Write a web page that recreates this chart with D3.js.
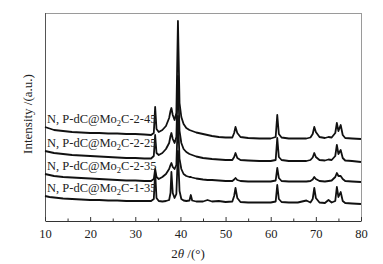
<!DOCTYPE html>
<html>
<head>
<meta charset="utf-8">
<script src="https://cdn.jsdelivr.net/npm/d3@7"></script>
<style>
  body { margin: 0; background: #fff; }
  text { font-family: "Liberation Serif", "Times New Roman", serif; fill: #222; }
</style>
</head>
<body>
<div id="chart"></div>
<script>
// 2theta sampling points (degrees)
var angles = [10, 11, 12, 14, 16, 18, 20, 22, 24, 26,
  28, 30, 32, 33.5, 34.1, 34.4, 34.7, 35.2, 36, 36.8,
  37.5, 37.8, 38.0, 38.3, 38.7, 39.1, 39.45, 39.8, 40.2, 40.7,
  41.3, 42.0, 42.3, 42.6, 43.5, 45, 46, 47, 48.5, 50,
  51.5, 51.9, 52.2, 52.6, 53.3, 55, 57.5, 60, 61.1, 61.45,
  61.8, 62.4, 64, 66, 67.9, 68.8, 69.3, 69.65, 70.0, 70.8,
  72, 72.8, 73.5, 74.3, 74.65, 75.0, 75.5, 75.95, 76.5, 78,
  80];

// intensities (a.u., already stacked with offsets as in the figure)
var int_1_35 = [25, 24, 23.5, 22.5, 22, 21.5, 21, 21, 20.5, 20.5,
  20, 20, 20, 20, 22, 49, 23, 20, 19.5, 20,
  21, 28, 49, 28, 23, 27, 70, 30, 22, 20.5,
  20, 20.5, 26, 20.5, 19.5, 19.5, 21, 19.5, 20, 19,
  19.5, 25, 33, 23, 19, 18.5, 18.5, 18.5, 19.5, 36,
  22, 19, 18.5, 18.5, 20.5, 18.5, 22, 33, 23, 18.5,
  18, 21, 18.5, 20, 34, 24, 29, 20, 18, 17.5,
  17];
var int_2_35 = [47, 46, 45, 44, 43.5, 43, 42.5, 42, 41.5, 41,
  40.5, 40.5, 40, 40, 42, 52, 44, 42, 44, 47,
  52, 56, 58, 54, 52, 56, 105, 62, 52, 47,
  45, 44, 44, 43.5, 42.5, 41.5, 41, 41, 40.5, 40,
  40, 41.5, 43, 41, 40, 39.5, 39.5, 39.5, 40.5, 53,
  43, 40, 39.5, 39.5, 39.5, 40, 41.5, 44, 42, 40,
  39.5, 40, 40.5, 44, 48, 45, 45, 42, 40, 39.5,
  39];
var int_2_25 = [70, 69, 68, 67, 66, 65.5, 65, 64.5, 64, 63.5,
  63, 63, 62.5, 62.5, 65, 86, 68, 66, 68, 72,
  78, 85, 88, 82, 78, 84, 145, 90, 78, 72,
  69, 67, 66.5, 66, 64.5, 63, 62.5, 62, 61.5, 61,
  61, 64, 68, 63, 61, 60.5, 60, 60, 61, 83,
  64, 61, 60, 60, 60, 61, 63.5, 68, 64, 61,
  60.5, 61.5, 61, 65, 76, 67, 71, 63, 60.5, 60,
  59];
var int_2_45 = [94, 92.5, 91, 90, 89, 88.5, 88, 88, 87.5, 87.5,
  87, 87, 86.5, 86, 88, 114, 92, 89, 91, 95,
  103, 110, 113, 106, 101, 108, 200, 118, 104, 97,
  93, 91, 90.5, 90, 88.5, 87, 86, 85, 84, 83.5,
  83.5, 88, 94, 88, 84, 83, 82.5, 82.5, 84, 106,
  87, 83.5, 82.5, 82.5, 82.5, 83.5, 87, 94, 89, 84,
  83, 84, 83.5, 88, 98, 90, 96, 86, 83, 82.5,
  82];

var seriesValues = [int_2_45, int_2_25, int_2_35, int_1_35];
var seriesSuffix = ["C-2-45", "C-2-25", "C-2-35", "C-1-35"];
var xTicks = [10, 20, 30, 40, 50, 60, 70, 80];
var xMinorTicks = [15, 25, 35, 45, 55, 65, 75];

var margin = {top: 13, right: 22, bottom: 43, left: 45},
    width = 383 - margin.left - margin.right,
    height = 264 - margin.top - margin.bottom;

var svg = d3.select("#chart").append("svg")
    .attr("width", 383)
    .attr("height", 264)
  .append("g")
    .attr("transform", "translate(" + margin.left + "," + margin.top + ")");

var x = d3.scaleLinear().domain([10, 80]).range([0, width]);
var y = d3.scaleLinear().domain([0, 208]).range([height, 0]);

// frame: top and right in light grey
svg.append("line")
    .attr("x1", 0).attr("x2", width).attr("y1", 0.5).attr("y2", 0.5)
    .style("stroke", "#9a9a9a");
svg.append("line")
    .attr("x1", width + 0.5).attr("x2", width + 0.5).attr("y1", 0).attr("y2", height)
    .style("stroke", "#9a9a9a");

// left axis, no ticks
svg.append("line")
    .attr("x1", 0.5).attr("x2", 0.5).attr("y1", 0).attr("y2", height)
    .style("stroke", "#555");

// bottom axis with inward ticks
var xAxis = svg.append("g")
    .attr("transform", "translate(0," + height + ")")
    .call(d3.axisBottom(x).tickValues(xTicks).tickSizeInner(-4).tickSizeOuter(0).tickPadding(8));
xAxis.select(".domain").style("stroke", "#333");
xAxis.selectAll(".tick line").style("stroke", "#333");
xAxis.selectAll("text")
    .style("font-family", "'Liberation Serif', 'Times New Roman', serif")
    .style("font-size", "12.5px")
    .style("fill", "#222");

svg.append("g")
    .attr("transform", "translate(0," + height + ")")
    .selectAll("line")
    .data(xMinorTicks)
    .enter().append("line")
    .attr("x1", function(d) { return x(d) + 0.5; })
    .attr("x2", function(d) { return x(d) + 0.5; })
    .attr("y1", 0).attr("y2", -2.5)
    .style("stroke", "#333");

// XRD traces
var line = d3.line()
    .x(function(d, i) { return x(angles[i]); })
    .y(function(d) { return y(d); });

svg.selectAll(".trace")
    .data(seriesValues)
    .enter().append("path")
    .attr("class", "trace")
    .attr("d", line)
    .style("fill", "none")
    .style("stroke", "#111")
    .style("stroke-width", 1.8)
    .style("stroke-linejoin", "round");

// sample labels sitting just above each trace
var labels = svg.selectAll(".label")
    .data(seriesValues)
    .enter().append("text")
    .attr("class", "label")
    .attr("x", 2)
    .attr("y", function(d) { return y(d[0]) - 4; })
    .style("font-size", "12.5px");
labels.append("tspan").text("N, P-dC@Mo");
labels.append("tspan").attr("dy", 3).style("font-size", "8.5px").text("2");
labels.append("tspan").attr("dy", -3).text(function(d, i) { return seriesSuffix[i]; });

// axis titles
var xTitle = svg.append("text")
    .attr("x", 143)
    .attr("y", height + 37)
    .attr("text-anchor", "middle")
    .style("font-size", "13px");
xTitle.append("tspan").text("2");
xTitle.append("tspan").style("font-style", "italic").text("θ");
xTitle.append("tspan").text(" /(°)");

svg.append("text")
    .attr("transform", "translate(" + (-13) + "," + 101 + ") rotate(-90)")
    .attr("text-anchor", "middle")
    .style("font-size", "13px")
    .text("Intensity /(a.u.)");
</script>
</body>
</html>
